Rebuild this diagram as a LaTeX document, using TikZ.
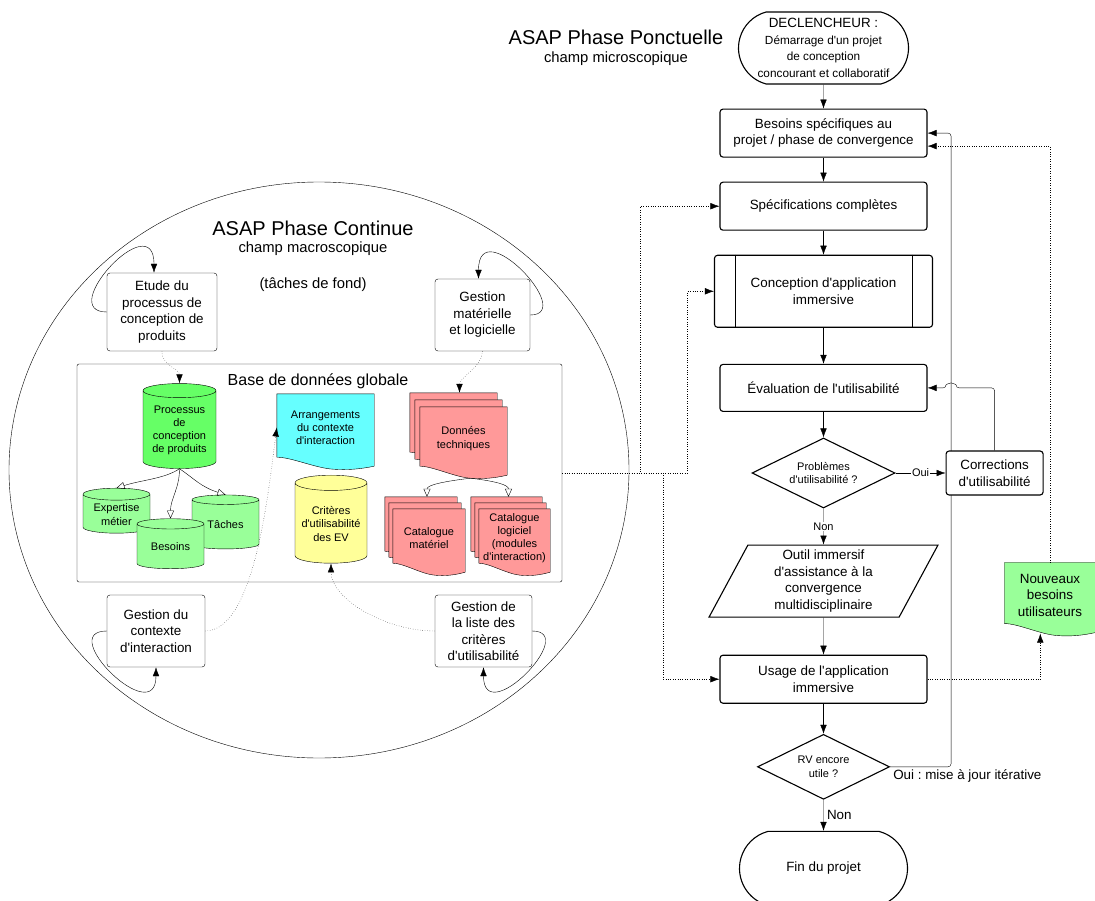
\documentclass[tikz,border=0pt]{standalone}
\usepackage{fontspec}
\setmainfont{Liberation Sans}
\newfontfamily\lucid{Liberation Sans}
\usetikzlibrary{shapes, shapes.geometric, shapes.misc, arrows, arrows.meta, calc, positioning, backgrounds}

\definecolor{green1}{HTML}{66FF66}
\definecolor{green2}{HTML}{99FF99}
\definecolor{cyan1}{HTML}{66FFFF}
\definecolor{yellow1}{HTML}{FFFF99}
\definecolor{salmon}{HTML}{FF9999}

\frenchspacing
\newcommand{\fsbox}{\lucid\fontsize{13.4}{16.5}\selectfont}
\newcommand{\fssmall}{\lucid\fontsize{11}{13.2}\selectfont}
\newcommand{\fsdecl}{\lucid\fontsize{11.8}{14}\selectfont}
\newcommand{\fstitle}{\lucid\fontsize{20}{24}\selectfont}
\newcommand{\fssub}{\lucid\fontsize{14.8}{17.5}\selectfont}
\newcommand{\fsdb}{\lucid\fontsize{16}{19}\selectfont}

% document shape (wavy bottom) behind node #1
\newcommand{\docshape}[2]{%
  \begin{pgfonlayer}{background}
  \path[draw, fill=#2] (#1.north west) -- (#1.north east) -- ($(#1.south east)+(0pt,-5pt)$)
    .. controls ($(#1.south west)!0.85!(#1.south east)+(0pt,-8pt)$) and ($(#1.south west)!0.72!(#1.south east)+(0pt,-9pt)$) .. ($(#1.south west)!0.58!(#1.south east)+(0pt,-8pt)$)
    .. controls ($(#1.south west)!0.4!(#1.south east)+(0pt,-7pt)$) and ($(#1.south west)!0.15!(#1.south east)+(0pt,4pt)$) .. ($(#1.south west)+(0pt,4pt)$) -- cycle;
  \end{pgfonlayer}
  \coordinate (#1-b) at ($(#1.south west)!0.58!(#1.south east)+(0pt,-8pt)$);
}

\tikzset{
  box/.style={draw, rounded corners=3pt, fill=white, align=center, font=\fsbox, minimum width=207, minimum height=48, inner sep=2pt},
  term/.style={draw, rounded rectangle, rounded rectangle arc length=150, align=center, font=\fsbox, minimum width=172, minimum height=72, inner sep=1pt},
  decis/.style={draw, diamond, aspect=2, inner sep=0pt, align=center, font=\fssmall},
  slant/.style={draw, trapezium, trapezium left angle=68, trapezium right angle=112, trapezium stretches=true, align=center, font=\fsbox, minimum width=229, minimum height=72, inner sep=1pt},
  lbl/.style={fill=white, inner sep=1pt, font=\fssmall},
  dbcyl/.style={draw, cylinder, shape border rotate=90, aspect=0.25, align=center, font=\fssmall, inner sep=1pt},
  docnode/.style={align=center, font=\fssmall, inner sep=1pt},
  opentip/.style={-{Triangle[open, length=8pt, width=7pt]}},
}

\begin{document}
\begin{tikzpicture}[x=1pt, y=-1pt, >={Latex[length=9pt, width=6.5pt]}, line width=1.1pt, node distance=24pt]
\useasboundingbox (0,0) rectangle (1095,901);

\node[font=\fstitle] (ponct) at (616,37) {ASAP Phase Ponctuelle};
\node[font=\fssub] (ponct-sub) at (616,59) {champ microscopique};

\node[term] (decl) at (823.5,48) {DECLENCHEUR :\\{\fsdecl Démarrage d'un projet}\\{\fsdecl de conception}\\{\fsdecl concourant et collaboratif}};
\node[box, below=of decl] (besoins) {Besoins spécifiques au\\projet / phase de convergence};
\node[box, below=of besoins] (spec) {Spécifications complètes};
\node[box, below=of spec, minimum width=218, minimum height=72] (conc) {Conception d'application\\immersive};
\node[box, below=36pt of conc, minimum height=47] (eval) {Évaluation de l'utilisabilité};
\node[decis, below=25.5pt of eval, minimum width=143, minimum height=70] (pb) {Problèmes\\d'utilisabilité ?};
\node[box, right=50pt of pb, minimum width=97, minimum height=44] (corr) {Corrections\\d'utilisabilité};
\node[slant, below=36pt of pb] (outil) {Outil immersif\\d'assistance à la\\convergence\\multidisciplinaire};
\node[box, below=37pt of outil] (usage) {Usage de l'application\\immersive};
\node[decis, below=30pt of usage, minimum width=132, minimum height=65] (rv) {RV encore\\utile ?};
\node[term, below=31pt of rv, minimum width=170, minimum height=74] (fin) {Fin du projet};

\node[docnode, font=\fsbox, minimum width=90, minimum height=64] (nouv) at (1050,595) {Nouveaux\\besoins\\utilisateurs};
\docshape{nouv}{green2}

\draw ([xshift=21pt]conc.north west) -- ([xshift=21pt]conc.south west);
\draw ([xshift=-21pt]conc.north east) -- ([xshift=-21pt]conc.south east);

\coordinate (iter) at ($(rv.east)+(61pt,0pt)$);

\draw[->] (decl) -- (besoins);
\draw[->] (besoins) -- (spec);
\draw[->] (spec) -- (conc);
\draw[->] (conc) -- (eval);
\draw[->] (eval) -- (pb);
\draw[->] (pb) -- node[lbl]{Oui} (corr);
\draw[->] (pb) -- node[lbl]{Non} (outil);
\draw[->] (outil) -- (usage);
\draw[->] (usage) -- (rv);
\draw[->] (rv) -- node[right, font=\fsbox]{Non} (fin);

\begin{pgfonlayer}{background}
\draw[->, rounded corners=3pt] (rv.east) -- node[pos=0, anchor=north west, font=\fsbox, inner sep=3pt]{Oui : mise à jour itérative} (iter) |- (besoins.east);
\end{pgfonlayer}
\draw[->, rounded corners=3pt] (corr.north) |- ($(iter |- eval.east)+(5pt,0pt)$) arc[start angle=0, end angle=180, radius=5pt] -- (eval.east);

\draw[->, dotted] (usage.east) -| ($(nouv-b)+(-17pt,2pt)$);
\draw[->, dotted] (nouv.north) |- ([yshift=-13pt]besoins.east);

% phase continue
\node[draw, ellipse, minimum width=620, minimum height=576, inner sep=0pt] (cont) at (319,470) {};
\node[font=\fstitle] (cont-title) at (313,228) {ASAP Phase Continue};
\node[font=\fssub] (cont-sub) at (313,249) {champ macroscopique};
\node[font=\fssub] (fond) at (313,285) {(tâches de fond)};

\node[box, minimum width=110, minimum height=78] (etude) at (162,312) {Etude du\\processus de\\conception de\\produits};
\node[box, minimum width=95, minimum height=72] (gmat) at (482.5,315) {Gestion\\matérielle\\et logicielle};
\node[box, minimum width=98, minimum height=72] (gctx) at (156,631) {Gestion du\\contexte\\d'interaction};
\node[box, minimum width=97, minimum height=72] (glist) at (483.5,631) {Gestion de\\la liste des\\critères\\d'utilisabilité};

\node[draw, rounded corners=2pt, minimum width=485, minimum height=218] (db) at (319.5,473) {};
\node[font=\fsdb] (db-title) at (318,381) {Base de données globale};

\node[dbcyl, fill=green1, minimum width=73, minimum height=85] (proc) at (179.5,430.5) {Processus\\de\\conception\\de produits};
\node[dbcyl, fill=green2, minimum width=67, minimum height=45] (exp) at (116.5,514.5) {Expertise\\métier};
\node[dbcyl, fill=green2, minimum width=67, minimum height=54] (tac) at (225.5,525) {Tâches};
\node[dbcyl, fill=green2, minimum width=67, minimum height=50] (bes) at (170.5,547) {Besoins};
\node[dbcyl, fill=yellow1, minimum width=72, minimum height=88] (crit) at (331,524) {Critères\\d'utilisabilité\\des EV};

\node[docnode, minimum width=97, minimum height=67] (arr) at (325.5,427.5) {Arrangements\\du contexte\\d'interaction};
\docshape{arr}{cyan1}

\node[docnode, minimum width=87, minimum height=63] (don-3) at (453.5,424.5) {};
\node[docnode, minimum width=87, minimum height=63] (don-2) at (458.5,431.5) {};
\node[docnode, minimum width=87, minimum height=63] (don) at (463.5,438.5) {Données\\techniques};
\docshape{don-3}{salmon}
\docshape{don-2}{salmon}
\docshape{don}{salmon}

\node[docnode, minimum width=72, minimum height=58] (catm-3) at (421,526) {};
\node[docnode, minimum width=72, minimum height=58] (catm-2) at (425,532) {};
\node[docnode, minimum width=72, minimum height=58] (catm) at (429,538) {Catalogue\\matériel};
\docshape{catm-3}{salmon}
\docshape{catm-2}{salmon}
\docshape{catm}{salmon}

\node[docnode, minimum width=71, minimum height=58] (catl-3) at (506.5,526) {};
\node[docnode, minimum width=71, minimum height=58] (catl-2) at (510.5,532) {};
\node[docnode, minimum width=71, minimum height=58] (catl) at (514.5,538) {Catalogue\\logiciel\\(modules\\d'interaction)};
\docshape{catl-3}{salmon}
\docshape{catl-2}{salmon}
\docshape{catl}{salmon}

\draw[opentip] (proc.south) .. controls +(-15pt,-10pt) and +(25pt,8pt) .. (exp.north);
\draw[opentip] (proc.south) .. controls +(0pt,-20pt) and +(0pt,20pt) .. (bes.north);
\draw[opentip] (proc.south) .. controls +(15pt,-10pt) and +(-25pt,8pt) .. (tac.north);
\draw[opentip] (don-b) .. controls +(-25pt,-3pt) and +(0pt,12pt) .. ([xshift=6pt]catm-3.north);
\draw[opentip] (don-b) .. controls +(25pt,-3pt) and +(0pt,12pt) .. ([xshift=2pt]catl-3.north);

\draw[->, dotted] (etude.south) .. controls +(0pt,-15pt) and +(0pt,15pt) .. (proc.north);
\draw[->, dotted] (gmat.south) .. controls +(0pt,-15pt) and +(0pt,15pt) .. ([xshift=6pt]don-3.north);
\draw[->, dotted] (gctx.east) .. controls +(50pt,0pt) and +(-8pt,-60pt) .. (arr.west);
\draw[->, dotted] (glist.west) .. controls +(-50pt,0pt) and +(0pt,-35pt) .. (crit.south);

\draw[->] (etude.west) .. controls +(-52pt,0pt) and +(0pt,68pt) .. ([xshift=-8pt]etude.north);
\draw[->] (gmat.east) .. controls +(47pt,0pt) and +(0pt,68pt) .. ([xshift=-4pt]gmat.north);
\draw[->] (gctx.west) .. controls +(-52pt,0pt) and +(0pt,-63pt) .. (gctx.south);
\draw[->] (glist.east) .. controls +(48pt,0pt) and +(0pt,-63pt) .. (glist.south);

\draw[->, dotted] (db.east) -- ++(78pt,0pt) |- (spec.west);
\draw[->, dotted] (db.east) -- ++(125pt,0pt) |- (conc.west);
\draw[->, dotted] (db.east) -- ++(101pt,0pt) |- (usage.west);

\end{tikzpicture}
\end{document}
